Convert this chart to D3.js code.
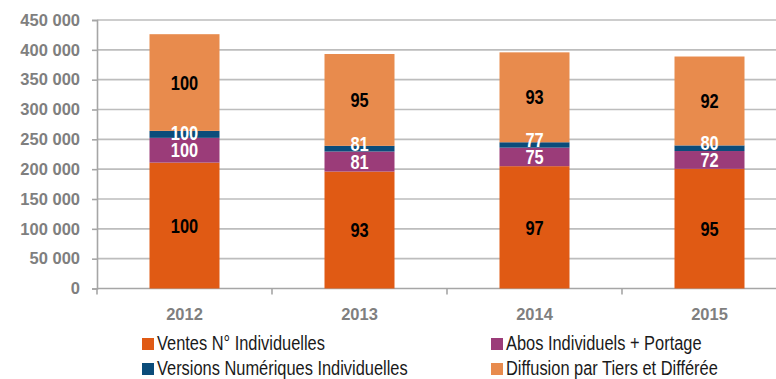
<!DOCTYPE html>
<html lang="fr">
<head>
<meta charset="utf-8">
<script src="https://cdn.jsdelivr.net/npm/d3@7"></script>
<style>
  html, body { margin: 0; padding: 0; background: #fff; }
  svg { display: block; }
</style>
</head>
<body>
<svg id="chart" width="776" height="379"></svg>
<script>
// Diffusion par année, en exemplaires, ventilée par canal
const years = ["2012", "2013", "2014", "2015"];
const ventesIndividuelles = [211000, 196000, 205000, 200500];
const abosPortage = [41500, 33600, 31100, 29900];
const versionsNumeriques = [11700, 9500, 9000, 9400];
const diffusionTiers = [162000, 153900, 150700, 149000];
const yTicks = [0, 50000, 100000, 150000, 200000, 250000, 300000, 350000, 400000, 450000];

const series = [
  { name: "Ventes N° Individuelles", values: ventesIndividuelles, color: "#E05A14", text: "#000" },
  { name: "Abos Individuels + Portage", values: abosPortage, color: "#9B3C79", text: "#fff" },
  { name: "Versions Numériques Individuelles", values: versionsNumeriques, color: "#0B4C7A", text: "#fff" },
  { name: "Diffusion par Tiers et Différée", values: diffusionTiers, color: "#E88B4D", text: "#000" }
];

const svg = d3.select("#chart");
const plotLeft = 97, plotRight = 797, plotTop = 20, plotBottom = 288.5;
const sans = "'Liberation Sans', Arial, Helvetica, sans-serif";

// squeeze a text horizontally to mimic a narrow typeface
function narrowText(sel, factor) {
  sel.each(function () {
    const w = this.getComputedTextLength();
    if (w > 0) {
      d3.select(this).attr("textLength", w * factor).attr("lengthAdjust", "spacingAndGlyphs");
    }
  });
}

const x = d3.scaleBand().domain(years).range([plotLeft, plotRight]).paddingInner(0.6).paddingOuter(0.3);
const y = d3.scaleLinear().domain([0, 450000]).range([plotBottom, plotTop]);

// gridlines
svg.append("g").selectAll("line").data(yTicks.slice(1)).join("line")
  .attr("x1", plotLeft).attr("x2", plotRight)
  .attr("y1", d => y(d)).attr("y2", d => y(d))
  .attr("stroke", "#BDBDBD").attr("stroke-width", 1.6);

// y axis with tick labels
const fmt = v => d3.format(",")(v).replace(/,/g, "\u00a0");
const yAxis = d3.axisLeft(y).tickValues(yTicks).tickSize(5).tickPadding(12).tickFormat(fmt);
const gy = svg.append("g").attr("transform", `translate(${plotLeft},0)`).call(yAxis);
gy.select(".domain").attr("stroke", "#A6A6A6").attr("stroke-width", 1.6);
gy.selectAll(".tick line").attr("stroke", "#A6A6A6").attr("stroke-width", 1.6);
gy.selectAll(".tick text")
  .attr("font-family", sans)
  .attr("font-weight", "bold").attr("font-size", 16.5).attr("fill", "#7F7F7F");

// x axis line and category boundary ticks
svg.append("line").attr("x1", plotLeft).attr("x2", plotRight)
  .attr("y1", plotBottom).attr("y2", plotBottom)
  .attr("stroke", "#A6A6A6").attr("stroke-width", 1.6);
const bounds = d3.range(years.length + 1).map(i => x.range()[0] + i * x.step());
svg.append("g").selectAll("line").data(bounds).join("line")
  .attr("x1", d => d).attr("x2", d => d)
  .attr("y1", plotBottom).attr("y2", plotBottom + 6)
  .attr("stroke", "#A6A6A6").attr("stroke-width", 1.6);
svg.append("g").selectAll("text").data(years).join("text")
  .attr("x", d => x(d) + x.bandwidth() / 2).attr("y", 320)
  .attr("text-anchor", "middle")
  .attr("font-family", sans)
  .attr("font-weight", "bold").attr("font-size", 16.5).attr("fill", "#7F7F7F")
  .text(d => d);

// stacked bars
const rows = years.map((yr, i) => {
  const r = { year: yr };
  series.forEach(s => { r[s.name] = s.values[i]; });
  return r;
});
const stacked = d3.stack().keys(series.map(s => s.name))(rows);

const barsG = svg.append("g");
const labelsG = svg.append("g");

stacked.forEach((layer, li) => {
  const s = series[li];
  barsG.append("g").selectAll("rect").data(layer).join("rect")
    .attr("x", d => x(d.data.year)).attr("width", x.bandwidth())
    .attr("y", d => y(d[1])).attr("height", d => y(d[0]) - y(d[1]))
    .attr("fill", s.color);
});

// value labels: index base 100 = 2012, nudged upward so stacked labels never collide
const minGap = 17.5;
years.forEach((yr, i) => {
  let prevY = Infinity;
  stacked.forEach((layer, li) => {
    const s = series[li];
    const d = layer[i];
    const mid = (y(d[0]) + y(d[1])) / 2;
    const ly = Math.min(mid, prevY - minGap);
    prevY = ly;
    labelsG.append("text")
      .attr("x", x(yr) + x.bandwidth() / 2)
      .attr("y", ly)
      .attr("dy", "0.36em")
      .attr("text-anchor", "middle")
      .attr("font-family", sans).attr("font-weight", "bold").attr("font-size", 20)
      .attr("fill", s.text)
      .text(Math.round(s.values[i] / s.values[0] * 100))
      .call(narrowText, 0.82);
  });
});

// legend
const legendPos = [[142, 338], [491, 338], [142, 363], [491, 363]];
const lg = svg.append("g");
series.forEach((s, k) => {
  const [lx, ly] = legendPos[k];
  lg.append("rect").attr("x", lx).attr("y", ly).attr("width", 12).attr("height", 12)
    .attr("fill", s.color);
  lg.append("text").attr("x", lx + 15).attr("y", ly + 12)
    .attr("font-family", sans).attr("font-size", 20).attr("fill", "#1A1A1A")
    .text(s.name)
    .call(narrowText, 0.82);
});
</script>
</body>
</html>
